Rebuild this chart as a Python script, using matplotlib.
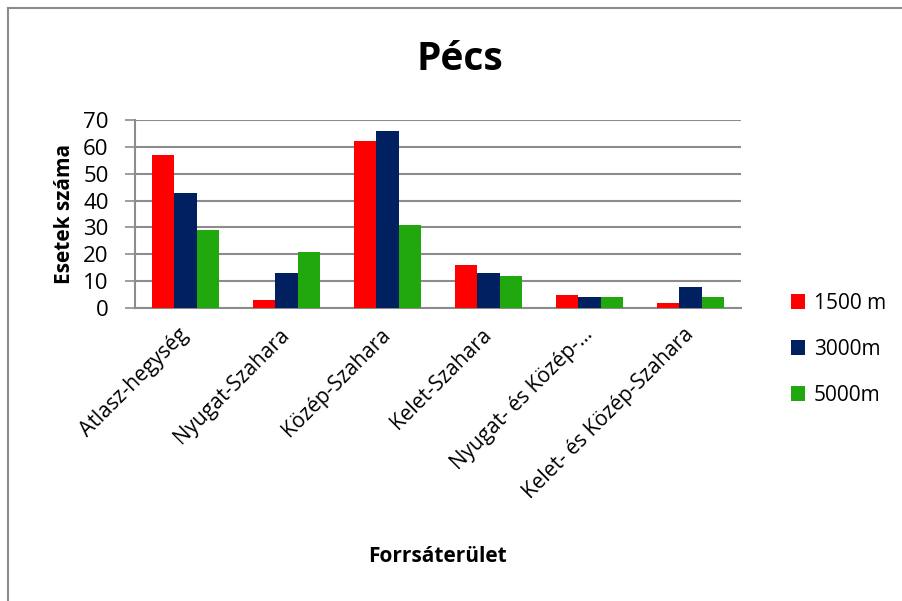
import matplotlib.pyplot as plt
from matplotlib.lines import Line2D
import numpy as np

categories = ["Atlasz-hegység", "Nyugat-Szahara", "Közép-Szahara",
              "Kelet-Szahara", "Nyugat- és Közép-…", "Kelet- és Közép-Szahara"]
series_names = ["1500 m", "3000m", "5000m"]
v1500 = [57, 3, 62, 16, 5, 2]
v3000 = [43, 13, 66, 13, 4, 8]
v5000 = [29, 21, 31, 12, 4, 4]
colors = ["#ff0000", "#002060", "#21a80e"]
yticks = [0, 10, 20, 30, 40, 50, 60, 70]

plt.rcParams['font.family'] = ['Open Sans', 'DejaVu Sans']

fig = plt.figure(figsize=(9.02, 6.01), dpi=100)
ax = fig.add_axes([135 / 902, 1 - 308 / 601, 606 / 902, 188 / 601])

x = np.arange(len(categories))
w = 0.222
for i, (vals, c, name) in enumerate(zip([v1500, v3000, v5000], colors, series_names)):
    ax.bar(x + (i - 1) * w, vals, width=w, color=c, label=name, zorder=3)

ax.set_xlim(-0.5, len(categories) - 0.5)
ax.set_ylim(0, 70)
ax.set_yticks(yticks)
ax.set_yticklabels([str(t) for t in yticks], fontsize=16)
ax.yaxis.grid(True, color="#8c8c8c", linewidth=1.5, zorder=0)
ax.tick_params(axis='y', length=7, width=1.2, color="#8c8c8c", pad=12)
ax.tick_params(axis='x', length=0, pad=17)
ax.set_xticks(x)
ax.set_xticklabels(categories, rotation=45, ha='right', va='center',
                   rotation_mode='anchor', fontsize=15)

for s in ['top', 'right']:
    ax.spines[s].set_visible(False)
ax.spines['left'].set_color("#8c8c8c")
ax.spines['left'].set_linewidth(1.5)
ax.spines['bottom'].set_color("#8c8c8c")
ax.spines['bottom'].set_linewidth(1.5)

ax.set_ylabel("Esetek száma", fontsize=15, fontweight='bold', labelpad=6)
fig.text(438 / 902, 1 - 556 / 601, "Forrsáterület", fontsize=15, fontweight='bold',
         ha='center', va='center')
fig.text(460 / 902, 1 - 60 / 601, "Pécs", fontsize=28, fontweight='bold',
         ha='center', va='center')

ax.legend(loc='upper left', bbox_to_anchor=(772 / 902, 1 - 274 / 601), bbox_transform=fig.transFigure,
          frameon=False, fontsize=15, handlelength=0.7, handleheight=0.7,
          labelspacing=1.2, handletextpad=0.4)

# chart frame (top and left edge visible)
fig.add_artist(Line2D([8 / 902, 8 / 902], [0, 1 - 8 / 601], color="#8c8c8c", linewidth=1.5,
                      transform=fig.transFigure))
fig.add_artist(Line2D([8 / 902, 1], [1 - 8 / 601, 1 - 8 / 601], color="#8c8c8c", linewidth=1.5,
                      transform=fig.transFigure))

fig.savefig("out.png", dpi=100)
